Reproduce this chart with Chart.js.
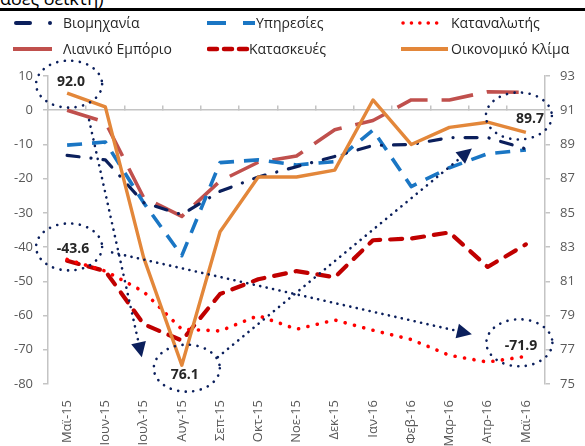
<!DOCTYPE html>
<html>
<head>
<meta charset="UTF-8">
<script src="https://cdn.jsdelivr.net/npm/chart.js@4.4.1/dist/chart.umd.min.js"></script>
<style>
    body {
        margin: 0;
        width: 585px;
        height: 446px;
        overflow: hidden;
        background: #fff;
        font-family: 'Open Sans', sans-serif;
        position: relative;
    }
    .head {
        position: absolute;
        left: 0;
        top: -14px;
        font-size: 18px;
        color: #000;
        white-space: nowrap;
    }
    .rule {
        position: absolute;
        left: 0;
        top: 8px;
        width: 585px;
        height: 2.5px;
        background: #000;
    }
    .chart-box {
        position: absolute;
        left: 0;
        top: 0;
        width: 585px;
        height: 500px;
    }
    .lg {
        position: absolute;
        font-size: 14px;
        color: #262626;
        white-space: nowrap;
        line-height: 18px;
    }
    .lg svg { position: absolute; top: 0; }
</style>
</head>
<body>
    <div class="head">αδες δείκτη)</div>
    <div class="rule"></div>
    <div class="chart-box"><canvas id="climateChart"></canvas></div>
    <div id="legend"></div>

<script>
// months on the category axis
const months = ['Μαϊ-15', 'Ιουν-15', 'Ιουλ-15', 'Αυγ-15', 'Σεπ-15', 'Οκτ-15', 'Νοε-15',
                'Δεκ-15', 'Ιαν-16', 'Φεβ-16', 'Μαρ-16', 'Απρ-16', 'Μαϊ-16'];

// left axis series (balance)
const industry     = [-13.2, -14.5, -27, -30.5, -23.7, -19.5, -16.5, -13.5, -10.3, -10, -8, -8, -11.3];
const services     = [-10.2, -9.3, -27, -42.5, -15.3, -14.5, -16, -15, -5.8, -22.3, -16.8, -12.7, -11.6];
const consumer     = [-43.6, -47, -53, -64, -64.5, -60, -64, -61.3, -64.3, -67, -71.6, -73.6, -71.9];
const retail       = [0, -3.5, -25.5, -31, -20.7, -15.2, -13.4, -5.7, -3, 3, 3, 5.4, 5.2];
const construction = [-44, -47, -62.5, -67.3, -53.7, -49.4, -47, -48.8, -38, -37.5, -35.7, -45.8, -39.2];

// right axis series (index)
const climate = [92.0, 91.2, 82.4, 76.1, 83.9, 87.1, 87.1, 87.5, 91.6, 89.0, 90.0, 90.3, 89.7];

const names = ['Βιομηχανία', 'Υπηρεσίες', 'Καταναλωτής', 'Λιανικό Εμπόριο', 'Κατασκευές', 'Οικονομικό Κλίμα'];

const axisGrey = '#c4c4c4';
const tickGrey = '#595959';
const navy = '#0b1f5c';

// --- legend (html) ---
const legendItems = [
    { name: names[0], x: 13, y: 14, tx: 63, svg: '<line x1="3" y1="9" x2="17" y2="9" stroke="#0b1f5c" stroke-width="4" stroke-linecap="round"/><circle cx="37" cy="9" r="2" fill="#0b1f5c"/>' },
    { name: names[1], x: 207, y: 14, tx: 256, svg: '<line x1="0" y1="9" x2="19" y2="9" stroke="#1a76c4" stroke-width="4"/><line x1="36" y1="9" x2="48" y2="9" stroke="#1a76c4" stroke-width="4"/>' },
    { name: names[2], x: 401, y: 14, tx: 451, svg: '<line x1="2" y1="9" x2="44" y2="9" stroke="#ff0000" stroke-width="3.5" stroke-linecap="round" stroke-dasharray="0.1 8.3"/>' },
    { name: names[3], x: 13, y: 40, tx: 63, svg: '<line x1="0" y1="9" x2="39" y2="9" stroke="#c0504d" stroke-width="4"/>' },
    { name: names[4], x: 207, y: 40, tx: 249, svg: '<line x1="2" y1="9" x2="40" y2="9" stroke="#c00000" stroke-width="4.5" stroke-linecap="round" stroke-dasharray="8 7"/>' },
    { name: names[5], x: 401, y: 40, tx: 451, svg: '<line x1="0" y1="9" x2="47" y2="9" stroke="#e3873a" stroke-width="4"/>' }
];
document.getElementById('legend').innerHTML = legendItems.map(it =>
    `<div class="lg" style="left:${it.x}px;top:${it.y}px;width:${it.tx - it.x + 140}px;height:18px">` +
    `<svg width="50" height="18">${it.svg}</svg>` +
    `<span style="position:absolute;left:${it.tx - it.x}px;top:0">${it.name}</span></div>`
).join('');

// --- dotted ellipses and arrows ---
const callouts = {
    id: 'callouts',
    afterDatasetsDraw(chart) {
        const ctx = chart.ctx;
        const xs = chart.scales.x, yl = chart.scales.y, yr = chart.scales.y2;
        const at = (i, v, ax) => ({ x: xs.getPixelForValue(i), y: ax.getPixelForValue(v) });

        const last = months.length - 1;
        const pMay15 = at(0, climate[0], yr);
        const pAug15 = at(3, climate[3], yr);
        const pMay16 = at(last, climate[last], yr);
        const cMay15 = at(0, consumer[0], yl);
        const cMay16 = at(last, consumer[last], yl);

        const rings = [
            { p: pMay15, dx: 2, dy: -9, tx: 4, ty: -11, text: climate[0].toFixed(1) },
            { p: cMay15, dx: 2, dy: -12.5, tx: 6, ty: -10, text: consumer[0].toFixed(1) },
            { p: pAug15, dx: 5, dy: 3, tx: 3, ty: 10, text: climate[3].toFixed(1) },
            { p: pMay16, dx: -7, dy: -16.5, tx: 4, ty: -13, text: climate[last].toFixed(1) },
            { p: cMay16, dx: -6.5, dy: -13.5, tx: -5, ty: -10, text: consumer[last].toFixed(1) }
        ];

        ctx.save();
        ctx.strokeStyle = navy;
        ctx.fillStyle = navy;
        ctx.lineCap = 'round';
        ctx.lineWidth = 2.6;

        ctx.setLineDash([0.1, 7.5]);
        rings.forEach(r => {
            ctx.beginPath();
            ctx.ellipse(r.p.x + r.dx, r.p.y + r.dy, 33, 23.5, 0, 0, Math.PI * 2);
            ctx.stroke();
        });

        const arrow = (x1, y1, x2, y2) => {
            const a = Math.atan2(y2 - y1, x2 - x1);
            const len = 15, half = 7.5;
            const bx = x2 - Math.cos(a) * len, by = y2 - Math.sin(a) * len;
            ctx.setLineDash([0.1, 6.5]);
            ctx.beginPath();
            ctx.moveTo(x1, y1);
            ctx.lineTo(bx, by);
            ctx.stroke();
            ctx.setLineDash([]);
            ctx.beginPath();
            ctx.moveTo(x2, y2);
            ctx.lineTo(bx + Math.sin(a) * half, by - Math.cos(a) * half);
            ctx.lineTo(bx - Math.sin(a) * half, by + Math.cos(a) * half);
            ctx.closePath();
            ctx.fill();
        };
        arrow(pMay15.x + 22, pMay15.y + 27, pAug15.x - 40, pAug15.y - 8);
        arrow(cMay15.x + 45, cMay15.y - 7, cMay16.x - 54, cMay16.y - 22);
        arrow(pAug15.x + 36, pAug15.y - 8, pMay16.x - 54, pMay16.y + 16);

        ctx.setLineDash([]);
        ctx.fillStyle = '#262626';
        ctx.font = 'bold 14px "Open Sans", sans-serif';
        ctx.textAlign = 'center';
        ctx.textBaseline = 'middle';
        rings.forEach(r => ctx.fillText(r.text, r.p.x + r.tx, r.p.y + r.ty));
        ctx.restore();
    }
};

const line = (label, data, color, width, dash, cap, axis, order) => ({
    label, data, yAxisID: axis, order,
    borderColor: color, backgroundColor: color,
    borderWidth: width, borderDash: dash, borderCapStyle: cap,
    borderJoinStyle: 'round', pointRadius: 0, tension: 0, fill: false
});

new Chart(document.getElementById('climateChart'), {
    type: 'line',
    data: {
        labels: months,
        datasets: [
            line(names[0], industry, navy, 3.2, [12, 12, 0.1, 12], 'round', 'y', 2),
            line(names[1], services, '#1a76c4', 3.6, [15, 10], 'butt', 'y', 3),
            line(names[2], consumer, '#ff0000', 3.6, [0.1, 9.5], 'round', 'y', 4),
            line(names[3], retail, '#c0504d', 3.6, [32, 14], 'butt', 'y', 5),
            line(names[4], construction, '#c00000', 4.2, [12, 10], 'round', 'y', 6),
            line(names[5], climate, '#e3873a', 3.4, [], 'butt', 'y2', 1)
        ]
    },
    options: {
        responsive: true,
        maintainAspectRatio: false,
        animation: false,
        layout: { padding: { top: 76, left: 0, right: 0, bottom: 0 } },
        plugins: {
            legend: { display: false },
            tooltip: { enabled: false }
        },
        scales: {
            x: {
                type: 'category',
                position: 'bottom',
                offset: true,
                grid: { display: false, drawTicks: false },
                border: { display: false },
                ticks: {
                    autoSkip: false, maxRotation: 90, minRotation: 90, padding: 16,
                    color: tickGrey, font: { family: 'Open Sans', size: 13 }
                },
                afterFit: s => { s.height = 116; }
            },
            x0: {
                type: 'category',
                axis: 'x',
                labels: months,
                position: { y: 0 },
                offset: true,
                grid: { offset: true, drawOnChartArea: false, drawTicks: true, tickLength: -5, color: axisGrey, lineWidth: 1.5 },
                border: { display: true, color: axisGrey, width: 1.5 },
                ticks: { display: false }
            },
            y: {
                position: 'left',
                min: -80, max: 10,
                ticks: { stepSize: 10, padding: 10, color: tickGrey, font: { family: 'Open Sans', size: 13 } },
                grid: { drawOnChartArea: false, tickLength: 5, color: axisGrey, lineWidth: 1.5 },
                border: { color: axisGrey, width: 1.5 },
                afterFit: s => { s.width = 48; }
            },
            y2: {
                position: 'right',
                min: 75, max: 93,
                ticks: { stepSize: 2, padding: 10, color: tickGrey, font: { family: 'Open Sans', size: 13 } },
                grid: { drawOnChartArea: false, tickLength: 5, color: axisGrey, lineWidth: 1.5 },
                border: { color: axisGrey, width: 1.5 },
                afterFit: s => { s.width = 40; }
            }
        }
    },
    plugins: [callouts]
});
</script>
</body>
</html>
